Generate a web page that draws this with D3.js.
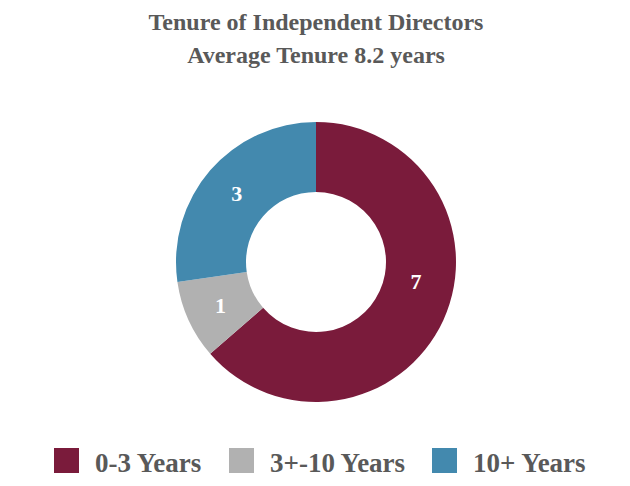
<!DOCTYPE html>
<html>
<head>
<meta charset="utf-8">
<title>Tenure of Independent Directors</title>
<script src="https://d3js.org/d3.v7.min.js"></script>
<style>
  body { margin: 0; background: #fff; }
  text { font-family: "Liberation Serif", "Times New Roman", serif; font-weight: bold; }
</style>
</head>
<body>
<script>
var categories = ["0-3 Years", "3+-10 Years", "10+ Years"];
var values = [7, 1, 3];
var colors = ["#7a1b3b", "#b1b1b1", "#4389ae"];
var titleLines = ["Tenure of Independent Directors", "Average Tenure 8.2 years"];

var width = 630, height = 486;
var cx = 316, cy = 262, outerR = 140, innerR = 70;

var svg = d3.select("body").append("svg")
    .attr("width", width)
    .attr("height", height);

// title
svg.selectAll("text.title")
    .data(titleLines)
    .enter().append("text")
    .attr("class", "title")
    .attr("x", width / 2 + 1)
    .attr("y", function (d, i) { return 30 + i * 33; })
    .attr("text-anchor", "middle")
    .attr("fill", "#595959")
    .attr("font-size", 24)
    .text(function (d) { return d; });

var pie = d3.pie().sort(null).value(function (d) { return d; });
var arcs = pie(values);

var arc = d3.arc().innerRadius(innerR).outerRadius(outerR);

var g = svg.append("g").attr("transform", "translate(" + cx + "," + cy + ")");

g.selectAll("path")
    .data(arcs)
    .enter().append("path")
    .attr("d", arc)
    .attr("fill", function (d, i) { return colors[i]; });

// labels: mid-angle of each slice; the big slice label sits nearer 3 o'clock like excel's best fit
function labelPos(d) {
    var a = (d.startAngle + d.endAngle) / 2, r = 105;
    if (d.endAngle - d.startAngle > Math.PI) { a = (a + Math.PI / 2) / 2 - 0.02; r = 102; }
    return [r * Math.sin(a), -r * Math.cos(a)];
}

g.selectAll("text.lbl")
    .data(arcs)
    .enter().append("text")
    .attr("class", "lbl")
    .attr("transform", function (d) {
        var c = labelPos(d);
        return "translate(" + c[0] + "," + c[1] + ")";
    })
    .attr("dy", "0.35em")
    .attr("text-anchor", "middle")
    .attr("fill", "#fff")
    .attr("font-size", 22)
    .text(function (d) { return d.data; });

// legend
var legX = [54, 229, 432];
var leg = svg.selectAll("g.leg")
    .data(categories)
    .enter().append("g")
    .attr("class", "leg")
    .attr("transform", function (d, i) { return "translate(" + legX[i] + ",448)"; });

leg.append("rect")
    .attr("width", 25)
    .attr("height", 25)
    .attr("fill", function (d, i) { return colors[i]; });

leg.append("text")
    .attr("x", 41)
    .attr("y", 24)
    .attr("fill", "#595959")
    .attr("font-size", 27)
    .text(function (d) { return d; });
</script>
</body>
</html>
